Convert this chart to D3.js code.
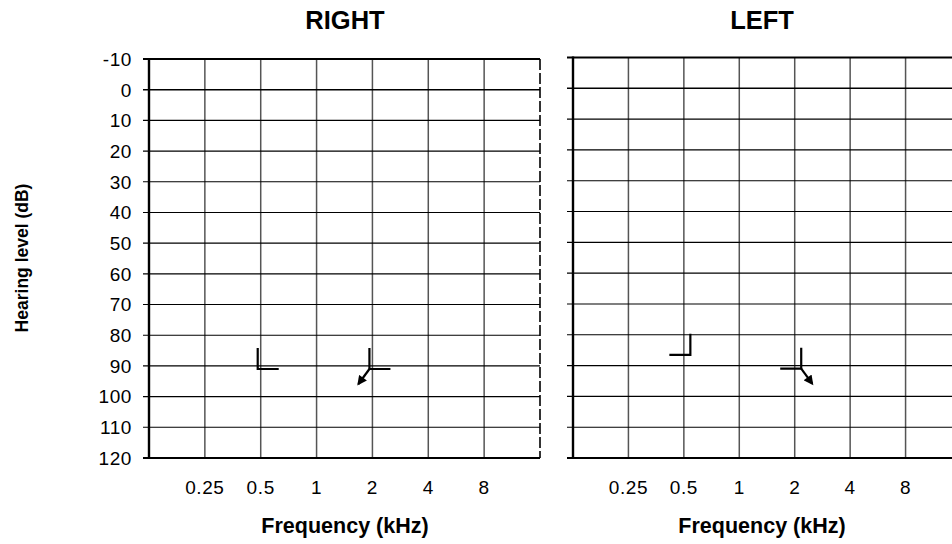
<!DOCTYPE html>
<html>
<head>
<meta charset="utf-8">
<script src="https://cdn.jsdelivr.net/npm/d3@7"></script>
<style>
  body { margin: 0; background: #fff; }
  text { font-family: "Liberation Sans", Arial, sans-serif; fill: #000; }
</style>
</head>
<body>
<script>
// audiogram values
var freqTicks = [0.25, 0.5, 1, 2, 4, 8];
var dbTicks = [-10, 0, 10, 20, 30, 40, 50, 60, 70, 80, 90, 100, 110, 120];

// right ear: bone conduction (masked), second point no response
var rightFreq = [0.5, 2];
var rightDb = [91, 91];
var rightNoResp = [false, true];

// left ear
var leftFreq = [0.5, 2];
var leftDb = [86.5, 91];
var leftNoResp = [false, true];

var width = 952, height = 544;

var svg = d3.select("body").append("svg")
    .attr("width", width)
    .attr("height", height);

var defs = svg.append("defs");
defs.append("marker")
    .attr("id", "arrow")
    .attr("viewBox", "0 0 10 10")
    .attr("refX", 8)
    .attr("refY", 5)
    .attr("markerWidth", 4.8)
    .attr("markerHeight", 4.4)
    .attr("markerUnits", "strokeWidth")
    .attr("orient", "auto")
    .append("path")
    .attr("d", "M0,0 L10,5 L0,10 z")
    .attr("fill", "#000");

function drawPanel(opts) {
    var x = d3.scaleLog().base(2).domain([0.125, 16]).range([opts.left, opts.right]);
    var y = d3.scaleLinear().domain([-10, 120]).range([opts.top, opts.bottom]);
    var g = svg.append("g");

    // vertical grid lines (one per octave)
    var vLines = [0.25, 0.5, 1, 2, 4, 8];
    g.selectAll(".vgrid")
        .data(vLines)
        .enter().append("line")
        .attr("x1", function (d) { return x(d); })
        .attr("x2", function (d) { return x(d); })
        .attr("y1", y(-10))
        .attr("y2", y(120))
        .attr("stroke", "#555")
        .attr("stroke-width", 1.5);

    // horizontal grid lines with small ticks out to the left
    g.selectAll(".hgrid")
        .data(dbTicks)
        .enter().append("line")
        .attr("x1", opts.left - 6)
        .attr("x2", opts.right)
        .attr("y1", function (d) { return y(d); })
        .attr("y2", function (d) { return y(d); })
        .attr("stroke", "#000")
        .attr("stroke-width", function (d) {
            if (d === -10 || d === 120) return 2.2;
            if (d === 0) return 1.6;
            return 1.1;
        });

    // left axis line
    g.append("line")
        .attr("x1", opts.left).attr("x2", opts.left)
        .attr("y1", y(-10) - 1).attr("y2", y(120) + 1)
        .attr("stroke", "#000")
        .attr("stroke-width", 2.4);

    // right edge (broken, like the scan)
    if (opts.dashedEdge) {
        g.append("line")
            .attr("x1", opts.right).attr("x2", opts.right)
            .attr("y1", y(-10)).attr("y2", y(120))
            .attr("stroke", "#000")
            .attr("stroke-width", 1.6)
            .attr("stroke-dasharray", "11,3");
    }

    if (opts.yLabels) {
        g.selectAll(".ylab")
            .data(dbTicks)
            .enter().append("text")
            .attr("x", opts.left - 17)
            .attr("y", function (d) { return y(d); })
            .attr("dy", "0.36em")
            .attr("text-anchor", "end")
            .style("font-size", "19px")
            .style("letter-spacing", "0.6px")
            .text(function (d) { return d; });
    }

    g.selectAll(".xlab")
        .data(freqTicks)
        .enter().append("text")
        .attr("x", function (d) { return x(d); })
        .attr("y", 494)
        .attr("text-anchor", "middle")
        .style("font-size", "19px")
        .style("letter-spacing", "0.6px")
        .text(function (d) { return d; });

    g.append("text")
        .attr("x", opts.labelX)
        .attr("y", 29)
        .attr("text-anchor", "middle")
        .style("font-size", "25.5px")
        .style("font-weight", "bold")
        .text(opts.title);

    g.append("text")
        .attr("x", opts.labelX)
        .attr("y", 533)
        .attr("text-anchor", "middle")
        .style("font-size", "21.5px")
        .style("font-weight", "bold")
        .text("Frequency (kHz)");

    // bone conduction symbols
    var leg = 21;
    var line = d3.line();
    opts.freq.forEach(function (f, i) {
        var cx = x(f) + opts.dx;
        var cy = y(opts.db[i]);
        g.append("path")
            .attr("d", line([[cx, cy - leg], [cx, cy], [cx + opts.dir * leg, cy]]))
            .attr("fill", "none")
            .attr("stroke", "#000")
            .attr("stroke-width", 2.2);
        if (opts.noResp[i]) {
            g.append("line")
                .attr("x1", cx).attr("y1", cy)
                .attr("x2", cx - opts.dir * 11).attr("y2", cy + 15)
                .attr("stroke", "#000")
                .attr("stroke-width", 2.2)
                .attr("marker-end", "url(#arrow)");
        }
    });
}

drawPanel({
    left: 149, right: 540, top: 59, bottom: 458,
    title: "RIGHT", labelX: 345, yLabels: true, dashedEdge: true,
    freq: rightFreq, db: rightDb, noResp: rightNoResp, dx: -3, dir: 1
});

drawPanel({
    left: 573, right: 961, top: 57.5, bottom: 458,
    title: "LEFT", labelX: 762, yLabels: false, dashedEdge: false,
    freq: leftFreq, db: leftDb, noResp: leftNoResp, dx: 6.5, dir: -1
});

svg.append("text")
    .attr("transform", "translate(28,258) rotate(-90)")
    .attr("text-anchor", "middle")
    .style("font-size", "17.5px")
    .style("font-weight", "bold")
    .text("Hearing level (dB)");
</script>
</body>
</html>
